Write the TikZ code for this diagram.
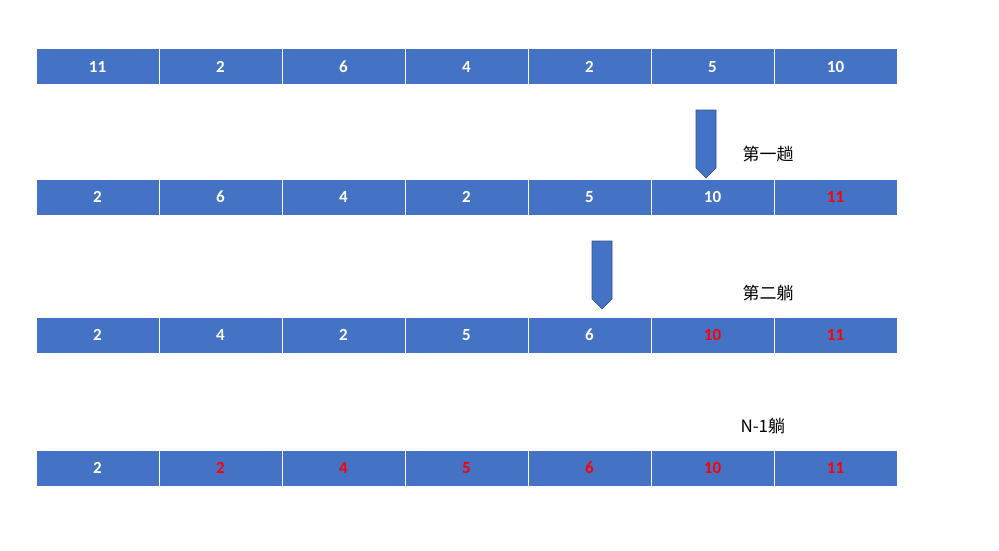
\documentclass[tikz,border=0pt]{standalone}
\usepackage{fontspec}
\setmainfont{Carlito}
\newfontfamily\cjk{Noto Sans CJK SC}
\usetikzlibrary{shapes.arrows}
\definecolor{cellblue}{HTML}{4472C4}
\definecolor{hot}{HTML}{FF0000}
\tikzset{
 cell/.style={fill=cellblue,draw=white,line width=1pt,minimum width=123pt,minimum height=36pt,inner sep=0pt,text=white,font=\fontsize{17}{17}\selectfont\bfseries},
 red/.style={text=hot},
 downarrow/.style={single arrow,shape border rotate=270,fill=cellblue,draw=cellblue!70!black,line width=0.6pt,minimum width=32pt,single arrow head extend=0pt,single arrow tip angle=90,minimum height=68pt,inner sep=0pt,single arrow head indent=0pt},
 lbl/.style={font=\cjk\fontsize{17}{17}\selectfont,text=black,anchor=west}
}
\begin{document}
\begin{tikzpicture}[x=1pt,y=-1pt]
\useasboundingbox (0,0) rectangle (999,551);
\def\row#1#2#3{%
 \foreach \v [count=\i] in {#2} {
  \pgfmathsetmacro\cx{36+123*(\i-1)+61.5}
  \pgfmathtruncatemacro\isred{\i>#3 ? 1 : 0}
  \ifnum\isred=1
   \node[cell,red] (r#1c\i) at (\cx,#1) {\v};
  \else
   \node[cell] (r#1c\i) at (\cx,#1) {\v};
  \fi
 }}
\row{67}{11,2,6,4,2,5,10}{7}
\row{197}{2,6,4,2,5,10,11}{6}
\row{335}{2,4,2,5,6,10,11}{5}
\row{468}{2,2,4,5,6,10,11}{1}
\node[downarrow,minimum width=20pt] (a1) at (706,139) {};
\node[downarrow,minimum width=20pt] (a2) at (602,270) {};
\node[lbl] (t1) at (739,154) {第一趟};
\node[lbl] (t2) at (739,293) {第二躺};
\node[lbl] (t3) at (737,426) {N-1躺};
\end{tikzpicture}
\end{document}
